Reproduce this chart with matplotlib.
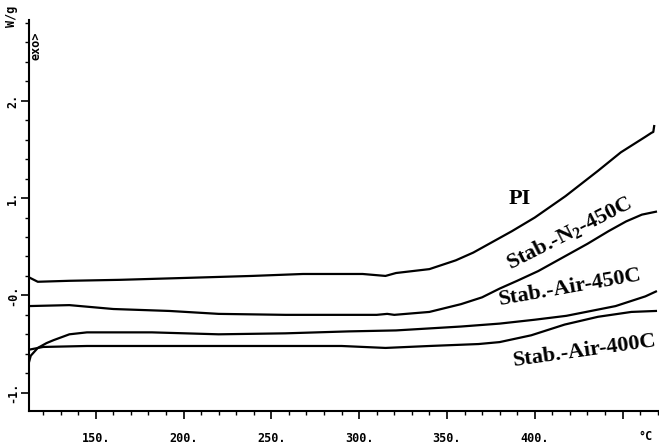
import matplotlib
matplotlib.use("Agg")
import matplotlib.pyplot as plt
from matplotlib.ticker import MultipleLocator, FixedLocator

# DSC curves, heat flow (W/g) vs temperature (C)
temp_pi = [111.5, 117, 135, 164, 202, 239, 268, 283, 302, 315, 321, 340, 355,
           365, 374, 387, 400, 417.5, 436, 449, 463, 466.4, 467.5, 468]
flow_pi = [0.19, 0.14, 0.15, 0.16, 0.18, 0.20, 0.22, 0.22, 0.22, 0.20, 0.23, 0.27,
           0.36, 0.44, 0.53, 0.66, 0.80, 1.02, 1.28, 1.47, 1.63, 1.67, 1.68, 1.74]

temp_n2 = [111.5, 135, 160, 192, 220, 258, 283, 310, 316, 320, 340, 358, 370,
           380, 390, 402, 415, 430, 442, 452, 461, 469]
flow_n2 = [-0.11, -0.10, -0.14, -0.16, -0.19, -0.20, -0.20, -0.20, -0.19, -0.20,
           -0.17, -0.09, -0.02, 0.07, 0.15, 0.25, 0.38, 0.53, 0.66, 0.76, 0.83, 0.86]

temp_air450 = [111.5, 113, 117, 122, 126, 135, 145, 182, 220, 258, 294, 321,
               358, 380, 400, 418, 446, 463, 469]
flow_air450 = [-0.72, -0.62, -0.54, -0.49, -0.46, -0.40, -0.38, -0.38, -0.40,
               -0.39, -0.37, -0.36, -0.32, -0.29, -0.25, -0.21, -0.11, -0.01, 0.04]

temp_air400 = [111.5, 120, 145, 200, 260, 290, 315, 340, 368, 380, 398, 417,
               436, 455, 469]
flow_air400 = [-0.56, -0.53, -0.52, -0.52, -0.52, -0.52, -0.54, -0.52, -0.50,
               -0.48, -0.41, -0.30, -0.22, -0.17, -0.16]

x_ticks = [150, 200, 250, 300, 350, 400, 450]
x_labels = ["150.", "200.", "250.", "300.", "350.", "400.", ""]
y_ticks = [-1, 0, 1, 2]
y_labels = ["-1.", "-0.", "1.", "2."]

plt.rcParams["mathtext.fontset"] = "custom"
plt.rcParams["mathtext.bf"] = "Liberation Serif:bold"
plt.rcParams["mathtext.rm"] = "Liberation Serif:bold"

fig = plt.figure(figsize=(6.59, 4.45), dpi=100)
ax = fig.add_axes([0.044, 0.076, 0.954, 0.879])

for t, f in [(temp_pi, flow_pi), (temp_n2, flow_n2),
             (temp_air450, flow_air450), (temp_air400, flow_air400)]:
    ax.plot(t, f, color="black", lw=1.6)

ax.set_xlim(112, 470)
ax.set_ylim(-1.19, 2.83)

ax.spines["top"].set_visible(False)
ax.spines["right"].set_visible(False)
ax.spines["left"].set_linewidth(1.5)
ax.spines["bottom"].set_linewidth(1.5)

ax.xaxis.set_major_locator(FixedLocator(x_ticks))
ax.xaxis.set_minor_locator(MultipleLocator(10))
ax.set_xticklabels(x_labels, family="DejaVu Sans Mono", weight="bold", fontsize=8.5)
ax.yaxis.set_major_locator(FixedLocator(y_ticks))
ax.yaxis.set_minor_locator(MultipleLocator(0.2))
ax.set_yticklabels(y_labels, family="DejaVu Sans Mono", weight="bold", fontsize=8.5,
                   rotation=90, va="center")
ax.tick_params(which="major", length=6, width=1.2)
ax.tick_params(which="minor", length=3, width=1.0)
ax.tick_params(axis="x", which="major", pad=9)
ax.tick_params(axis="y", which="major", pad=1)

# labels on the curves
lab = dict(family="Liberation Serif", weight="bold", fontsize=16,
           ha="center", va="center", rotation_mode="anchor")
ax.text(391.5, 0.99, "PI", **lab)
ax.text(420, 0.64, r"Stab.-N$_\mathbf{2}$-450C", rotation=27, **lab)
ax.text(420, 0.08, "Stab.-Air-450C", rotation=10, **lab)
ax.text(428.5, -0.57, "Stab.-Air-400C", rotation=8, **lab)

mono = dict(family="DejaVu Sans Mono", weight="bold", fontsize=8.5)
fig.text(12 / 659, 1 - 16 / 445, "W/g", rotation=90, ha="center", va="center", **mono)
fig.text(36 / 659, 1 - 46 / 445, "exo>", rotation=90, ha="center", va="center", **mono)
fig.text(646 / 659, 1 - 437 / 445, "°C", ha="center", va="center", **mono)

fig.savefig("out.png", dpi=100)
